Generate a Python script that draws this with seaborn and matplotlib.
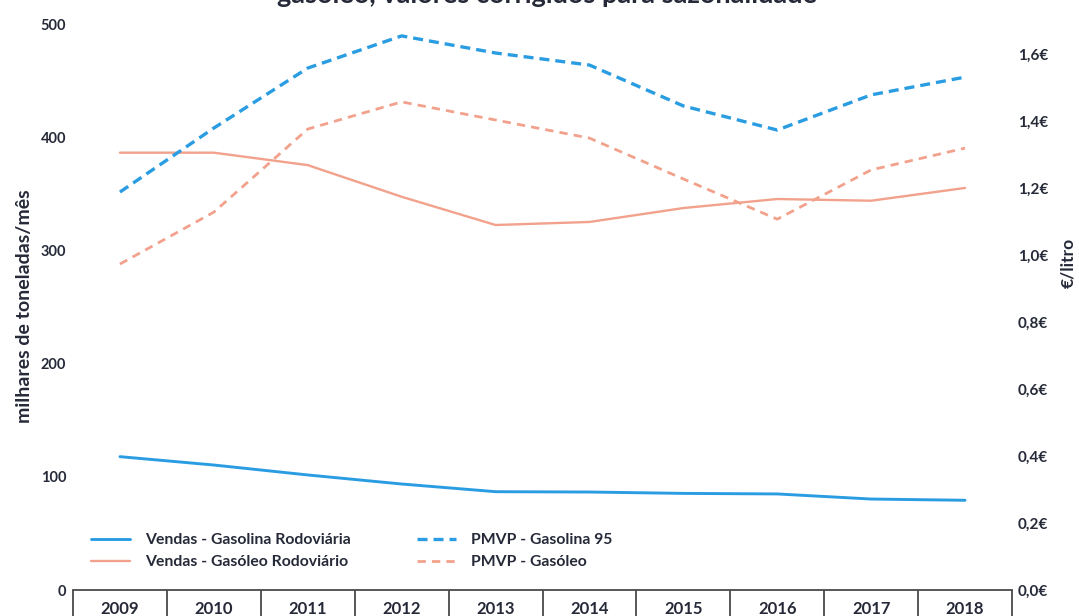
import matplotlib
matplotlib.use("Agg")
import matplotlib.pyplot as plt
import seaborn as sns
import pandas as pd
import numpy as np

# Annual series
anos = ["2009", "2010", "2011", "2012", "2013", "2014", "2015", "2016", "2017", "2018"]
vendas_gasolina = [118, 110.6, 101.8, 93.8, 87.0, 86.7, 85.5, 85.0, 80.5, 79.4]
vendas_gasoleo = [387, 387, 376, 348, 323, 325.7, 338, 346, 344.5, 355.8]
pmvp_gasolina95 = [1.188, 1.379, 1.558, 1.654, 1.603, 1.567, 1.445, 1.373, 1.478, 1.531]
pmvp_gasoleo = [0.973, 1.128, 1.376, 1.457, 1.403, 1.349, 1.227, 1.107, 1.254, 1.319]

left_ticks = [0, 100, 200, 300, 400, 500]
right_ticks = [0.0, 0.2, 0.4, 0.6, 0.8, 1.0, 1.2, 1.4, 1.6]

titulo = "gasóleo, valores corrigidos para sazonalidade"
ylabel_esq = "milhares de toneladas/mês"
ylabel_dir = "€/litro"

AZUL = "#2a9de2"
SALMAO = "#f2a28c"
TXT = "#262a38"

sns.set_theme(style="white")
plt.rcParams["font.family"] = ["Lato", "DejaVu Sans"]

df = pd.DataFrame({
    "pos": np.arange(len(anos)),
    "vg": vendas_gasolina,
    "vd": vendas_gasoleo,
    "pg": pmvp_gasolina95,
    "pd": pmvp_gasoleo,
})

fig = plt.figure(figsize=(10.79, 6.16), dpi=100)
ax = fig.add_axes([73 / 1079, 1 - 590 / 616, (1012 - 73) / 1079, (590 - 25) / 616])
ax2 = ax.twinx()

sns.lineplot(data=df, x="pos", y="vg", ax=ax, color=AZUL, lw=2.1,
             label="Vendas - Gasolina Rodoviária", legend=False)
sns.lineplot(data=df, x="pos", y="vd", ax=ax, color=SALMAO, lw=1.7,
             label="Vendas - Gasóleo Rodoviário", legend=False)
sns.lineplot(data=df, x="pos", y="pg", ax=ax2, color=AZUL, lw=2.4,
             linestyle=(0, (3, 1.8)), label="PMVP - Gasolina 95", legend=False)
sns.lineplot(data=df, x="pos", y="pd", ax=ax2, color=SALMAO, lw=2.0,
             linestyle=(0, (3, 2.2)), label="PMVP - Gasóleo", legend=False)

ymax_right = 1.6 * 565 / 536
ax.set_ylim(0, 500)
ax2.set_ylim(0, ymax_right)
ax.set_xlim(-0.5, len(anos) - 0.5)

for a in (ax, ax2):
    for s in a.spines.values():
        s.set_visible(False)
ax.spines["bottom"].set_visible(True)
ax.spines["bottom"].set_color("#4a4a4a")
ax.spines["bottom"].set_linewidth(1.3)

# category boxes: long dividers between years, labels centered
ax.set_xticks(np.arange(len(anos) + 1) - 0.5)
ax.set_xticklabels([])
ax.tick_params(axis="x", which="major", length=26, width=1.3, color="#4a4a4a",
               direction="out", bottom=True)
ax.set_xticks(np.arange(len(anos)), minor=True)
ax.set_xticklabels(anos, minor=True, fontsize=12, fontweight="bold", color=TXT)
ax.tick_params(axis="x", which="minor", length=0, pad=8)

ax.set_yticks(left_ticks)
ax.set_yticklabels([str(v) for v in left_ticks], fontsize=10.5, fontweight="bold", color=TXT)
ax.tick_params(axis="y", length=0, pad=5)
ax2.set_yticks(right_ticks)
ax2.set_yticklabels([f"{v:.1f}€".replace(".", ",") for v in right_ticks],
                    fontsize=11, fontweight="bold", color=TXT)
ax2.tick_params(axis="y", length=0, pad=4)

ax.set_xlabel("")
ax.set_ylabel("")
ax2.set_ylabel("")
fig.text(25 / 1079, 1 - 306 / 616, ylabel_esq, rotation=90, ha="center", va="center",
         fontsize=14, fontweight="bold", color=TXT)
fig.text(1068 / 1079, 1 - 263 / 616, ylabel_dir, rotation=90, ha="center", va="center",
         fontsize=12.5, fontweight="bold", color=TXT)

h1, lab1 = ax.get_legend_handles_labels()
h2, lab2 = ax2.get_legend_handles_labels()
leg = ax.legend(h1 + h2, lab1 + lab2, ncol=2, loc="lower left",
                bbox_to_anchor=(0.004, 0.012), frameon=False, fontsize=11.3,
                handlelength=2.5, handletextpad=0.95, columnspacing=4.2,
                labelspacing=0.5)
for t in leg.get_texts():
    t.set_color(TXT)
    t.set_fontweight("bold")

fig.text(547 / 1079, 1 - 3 / 616, titulo, ha="center", va="baseline",
         fontsize=19.5, fontweight="bold", color=TXT)

fig.savefig("out.png", dpi=100)
